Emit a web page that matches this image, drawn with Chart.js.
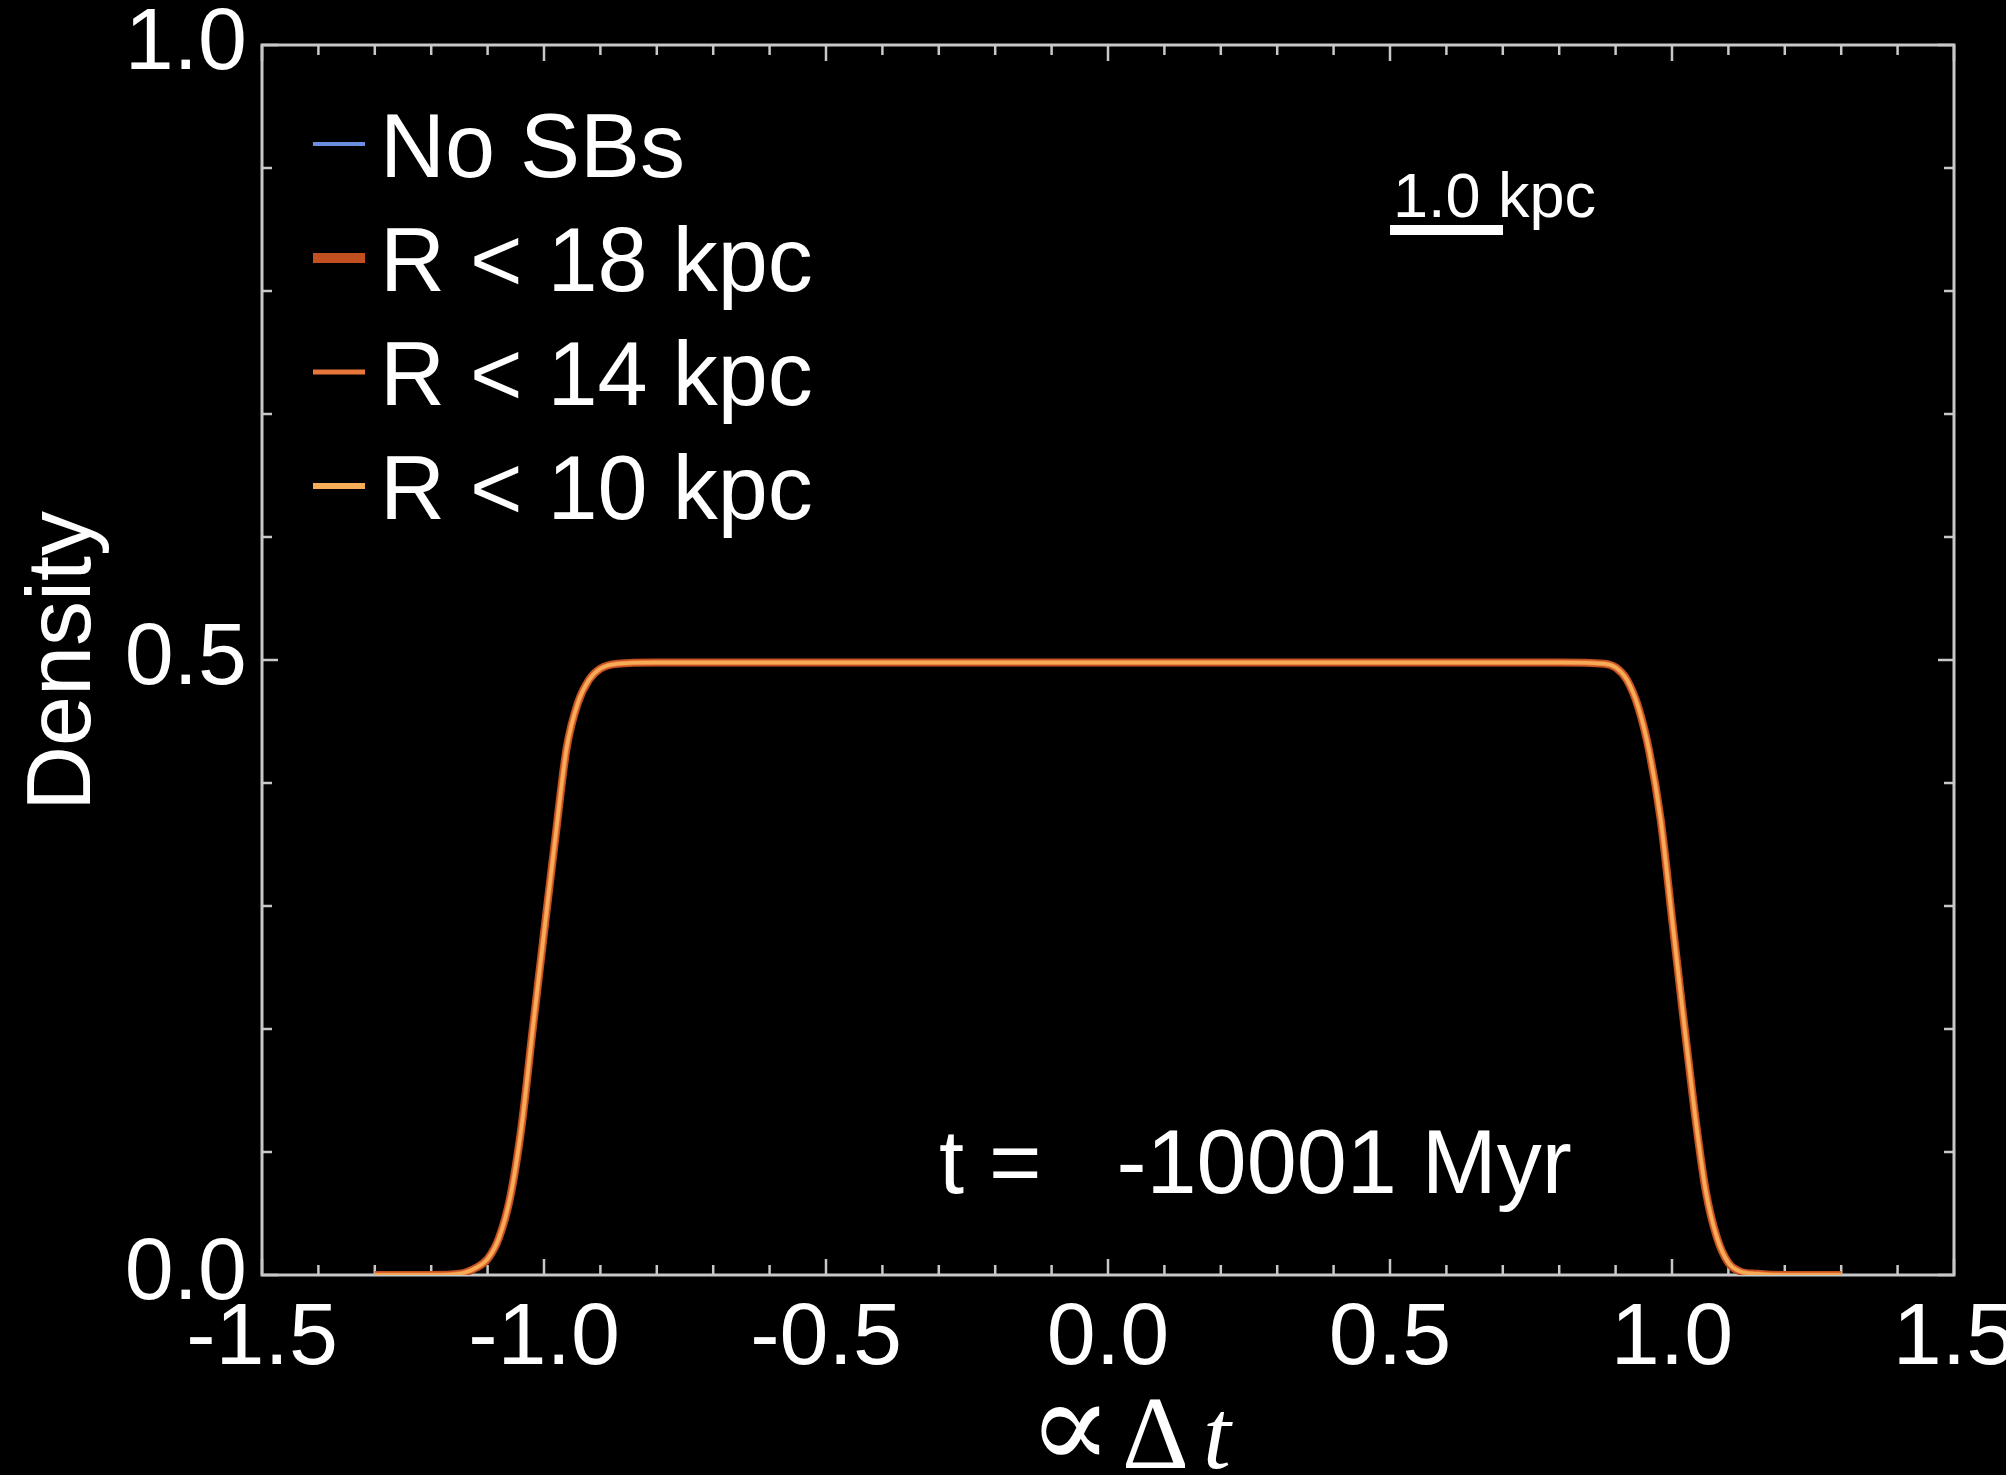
<!DOCTYPE html>
<html>
<head>
<meta charset="utf-8">
<script src="https://cdn.jsdelivr.net/npm/chart.js@4/dist/chart.umd.min.js"></script>
<style>
  html, body { margin: 0; padding: 0; background: #000; overflow: hidden; }
  #wrap { position: absolute; left: 0; top: 0; width: 2030px; height: 1475px; }
</style>
</head>
<body>
<div id="wrap"><canvas id="c" width="2030" height="1475"></canvas></div>
<script>
// Time-offset positions (proportional to delta t)
const offsets = [-1.30, -1.20, -1.15, -1.12, -1.10, -1.08, -1.06, -1.04, -1.02, -1.00, -0.98, -0.96, -0.94, -0.92, -0.90, -0.87, -0.80,
                 0.00,
                 0.80, 0.88, 0.90, 0.92, 0.94, 0.96, 0.98, 1.00, 1.02, 1.04, 1.06, 1.08, 1.10, 1.12, 1.15, 1.20, 1.30];

// Density profiles for each run (all coincide at this snapshot)
const densityNoSBs = [0.000, 0.000, 0.001, 0.006, 0.013, 0.030, 0.063, 0.120, 0.200, 0.278, 0.355, 0.428, 0.465, 0.484, 0.493, 0.497, 0.498,
                      0.498,
                      0.498, 0.497, 0.494, 0.484, 0.462, 0.425, 0.370, 0.290, 0.210, 0.133, 0.068, 0.030, 0.010, 0.003, 0.001, 0.000, 0.000];
const densityR18 = [0.000, 0.000, 0.001, 0.006, 0.013, 0.030, 0.063, 0.120, 0.200, 0.278, 0.355, 0.428, 0.465, 0.484, 0.493, 0.497, 0.498,
                    0.498,
                    0.498, 0.497, 0.494, 0.484, 0.462, 0.425, 0.370, 0.290, 0.210, 0.133, 0.068, 0.030, 0.010, 0.003, 0.001, 0.000, 0.000];
const densityR14 = [0.000, 0.000, 0.001, 0.006, 0.013, 0.030, 0.063, 0.120, 0.200, 0.278, 0.355, 0.428, 0.465, 0.484, 0.493, 0.497, 0.498,
                    0.498,
                    0.498, 0.497, 0.494, 0.484, 0.462, 0.425, 0.370, 0.290, 0.210, 0.133, 0.068, 0.030, 0.010, 0.003, 0.001, 0.000, 0.000];
const densityR10 = [0.000, 0.000, 0.001, 0.006, 0.013, 0.030, 0.063, 0.120, 0.200, 0.278, 0.355, 0.428, 0.465, 0.484, 0.493, 0.497, 0.498,
                    0.498,
                    0.498, 0.497, 0.494, 0.484, 0.462, 0.425, 0.370, 0.290, 0.210, 0.133, 0.068, 0.030, 0.010, 0.003, 0.001, 0.000, 0.000];

const seriesLabels = ['No SBs', 'R < 18 kpc', 'R < 14 kpc', 'R < 10 kpc'];
const xTickValues = [-1.5, -1.0, -0.5, 0.0, 0.5, 1.0, 1.5];
const yTickValues = [0.0, 0.5, 1.0];
const timeLabel = 't =   -10001 Myr';
const scaleBarLabel = '1.0 kpc';
const yTitle = 'Density';

const SANS = '"Liberation Sans", Arial, Helvetica, sans-serif';
const SERIF = '"Liberation Serif", "DejaVu Serif", serif';
const FRAME = '#c8c8c8';

const toPoints = (ys) => offsets.map((x, i) => ({ x: x, y: ys[i] }));

// Frame with inward major/minor ticks on all four sides
const framePlugin = {
  id: 'frame',
  beforeDatasetsDraw(chart) {
    const { ctx, chartArea: a, scales } = chart;
    const xs = scales.x, ys = scales.y;
    ctx.save();
    ctx.strokeStyle = FRAME;
    ctx.lineWidth = 2.5;
    for (let k = -15; k <= 15; k++) {
      const v = k / 10;
      const px = xs.getPixelForValue(v);
      const len = (k % 5 === 0) ? 16 : 10;
      ctx.beginPath();
      ctx.moveTo(px, a.bottom); ctx.lineTo(px, a.bottom - len);
      ctx.moveTo(px, a.top); ctx.lineTo(px, a.top + len);
      ctx.stroke();
    }
    for (let k = 0; k <= 10; k++) {
      const v = k / 10;
      const py = ys.getPixelForValue(v);
      const len = (k % 5 === 0) ? 16 : 10;
      ctx.beginPath();
      ctx.moveTo(a.left, py); ctx.lineTo(a.left + len, py);
      ctx.moveTo(a.right, py); ctx.lineTo(a.right - len, py);
      ctx.stroke();
    }
    ctx.lineWidth = 3;
    ctx.strokeRect(a.left, a.top, a.right - a.left, a.bottom - a.top);
    ctx.restore();
  }
};

// Legend, scale bar, time stamp and axis titles
const annotPlugin = {
  id: 'annot',
  afterDraw(chart) {
    const { ctx, chartArea: a } = chart;
    ctx.save();
    ctx.fillStyle = '#ffffff';

    // legend
    const rowY = [144, 258, 372, 486];
    const markW = [4, 10, 5, 6];
    chart.data.datasets.forEach((ds, i) => {
      const y = rowY[i];
      ctx.strokeStyle = ds.borderColor;
      ctx.lineWidth = markW[i];
      ctx.beginPath();
      ctx.moveTo(a.left + 51, y); ctx.lineTo(a.left + 103, y);
      ctx.stroke();
      ctx.font = '90px ' + SANS;
      ctx.textAlign = 'left';
      ctx.textBaseline = 'alphabetic';
      ctx.fillText(ds.label, a.left + 118, y + 33);
    });

    // scale bar
    ctx.font = '63px ' + SANS;
    ctx.fillText(scaleBarLabel, 1393, 217);
    ctx.fillRect(1390, 225, 113, 10);

    // time stamp
    ctx.font = '90px ' + SANS;
    ctx.fillText(timeLabel, 939, 1193);

    // y title
    ctx.save();
    ctx.translate(90, (a.top + a.bottom) / 2 + 1);
    ctx.rotate(-Math.PI / 2);
    ctx.textAlign = 'center';
    ctx.font = '90px ' + SANS;
    ctx.fillText(yTitle, 0, 0);
    ctx.restore();

    // x title: proportional-to delta t
    const cx = (a.left + a.right) / 2;
    ctx.textAlign = 'left';
    ctx.font = '125px ' + SERIF;
    ctx.fillText('\u221D', cx - 80, 1468);
    ctx.font = '104px ' + SERIF;
    ctx.fillText('\u0394', cx + 14, 1468);
    ctx.font = 'italic 100px ' + SERIF;
    ctx.fillText('t', cx + 95, 1468);
    ctx.restore();
  }
};

new Chart(document.getElementById('c'), {
  type: 'line',
  data: {
    datasets: [
      { label: seriesLabels[0], data: toPoints(densityNoSBs), borderColor: '#6a8ee0', borderWidth: 3, order: 3 },
      { label: seriesLabels[1], data: toPoints(densityR18), borderColor: '#c0501f', borderWidth: 8, order: 2 },
      { label: seriesLabels[2], data: toPoints(densityR14), borderColor: '#e8763a', borderWidth: 5, order: 1 },
      { label: seriesLabels[3], data: toPoints(densityR10), borderColor: '#f7ac58', borderWidth: 3.5, order: 0 }
    ]
  },
  options: {
    responsive: false,
    animation: false,
    devicePixelRatio: 1,
    layout: { padding: { left: 0, right: 76, top: 45, bottom: 0 } },
    elements: {
      point: { radius: 0 },
      line: { cubicInterpolationMode: 'monotone', fill: false }
    },
    plugins: { legend: { display: false }, tooltip: { enabled: false } },
    scales: {
      x: {
        type: 'linear', min: -1.5, max: 1.5,
        afterFit(s) { s.height = 200; s.paddingLeft = 0; s.paddingRight = 0; },
        afterBuildTicks(s) { s.ticks = xTickValues.map(v => ({ value: v })); },
        ticks: {
          color: '#ffffff', padding: 12, maxRotation: 0, autoSkip: false,
          font: { family: SANS, size: 88 },
          callback: (v) => Number(v).toFixed(1)
        },
        grid: { display: false, drawTicks: false },
        border: { display: false }
      },
      y: {
        type: 'linear', min: 0, max: 1,
        afterFit(s) { s.width = 262; s.paddingTop = 0; s.paddingBottom = 0; },
        afterBuildTicks(s) { s.ticks = yTickValues.map(v => ({ value: v })); },
        ticks: {
          color: '#ffffff', padding: 15, autoSkip: false,
          font: { family: SANS, size: 88 },
          callback: (v) => Number(v).toFixed(1)
        },
        grid: { display: false, drawTicks: false },
        border: { display: false }
      }
    }
  },
  plugins: [framePlugin, annotPlugin]
});
</script>
</body>
</html>
